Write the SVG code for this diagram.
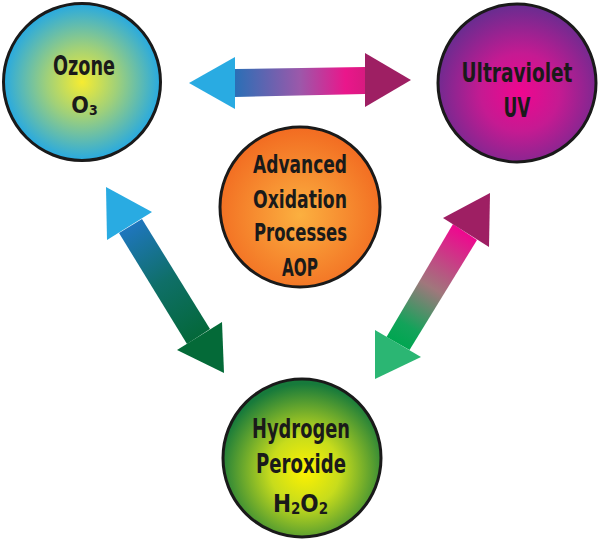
<svg xmlns="http://www.w3.org/2000/svg" width="600" height="541" viewBox="0 0 600 541">
<defs>
<radialGradient id="gOz" cx="0.5" cy="0.5" r="0.5">
<stop offset="0" stop-color="#f6ec31"/>
<stop offset="0.45" stop-color="#9fd07a"/>
<stop offset="1" stop-color="#27a9e1"/>
</radialGradient>
<radialGradient id="gUV" cx="0.52" cy="0.56" r="0.55">
<stop offset="0" stop-color="#f0068f"/>
<stop offset="0.45" stop-color="#c51a92"/>
<stop offset="1" stop-color="#6a2c90"/>
</radialGradient>
<radialGradient id="gH2" cx="0.52" cy="0.58" r="0.55">
<stop offset="0" stop-color="#fff200"/>
<stop offset="0.4" stop-color="#c7dc1c"/>
<stop offset="1" stop-color="#177a3b"/>
</radialGradient>
<radialGradient id="gAOP" cx="0.5" cy="0.55" r="0.55">
<stop offset="0" stop-color="#fbb040"/>
<stop offset="1" stop-color="#f26b21"/>
</radialGradient>
<linearGradient id="gTop" gradientUnits="userSpaceOnUse" x1="235" y1="82" x2="365" y2="80">
<stop offset="0" stop-color="#2a6fb6"/>
<stop offset="0.5" stop-color="#9c58aa"/>
<stop offset="0.85" stop-color="#ea168b"/>
<stop offset="1" stop-color="#d81a80"/>
</linearGradient>
<linearGradient id="gLeft" gradientUnits="userSpaceOnUse" x1="130" y1="226" x2="199" y2="336">
<stop offset="0" stop-color="#1f76be"/>
<stop offset="0.5" stop-color="#0f6f68"/>
<stop offset="1" stop-color="#04683a"/>
</linearGradient>
<linearGradient id="gRight" gradientUnits="userSpaceOnUse" x1="465" y1="232" x2="398" y2="343">
<stop offset="0" stop-color="#ef078f"/>
<stop offset="0.5" stop-color="#a0777c"/>
<stop offset="0.85" stop-color="#13a35a"/>
<stop offset="1" stop-color="#00a651"/>
</linearGradient>
</defs>
<style>
.c{stroke:#1a1a1a;stroke-width:3}
.t{font-family:"Liberation Sans Narrow","DejaVu Sans Condensed","Liberation Sans",sans-serif;font-weight:bold;fill:#1a1a1a;text-anchor:middle}
</style>
<g id="connectors">
<g id="arrow-ozone-uv">
<polygon points="235,69 365,67 365,94 235,97" fill="url(#gTop)"/>
<polygon points="189,83 235,57 235,109" fill="#29abe2"/>
<polygon points="365,53 411,80 365,107" fill="#9e1f63"/>
</g>
<g id="arrow-ozone-h2o2">
<polygon points="119,233 142,219 210,329 187,344" fill="url(#gLeft)"/>
<polygon points="106,187 152,212 107,240" fill="#29abe2"/>
<polygon points="177,350 222,322 224,373" fill="#046a38"/>
</g>
<g id="arrow-uv-h2o2">
<polygon points="453,224 477,240 409.5,350 386.5,337" fill="url(#gRight)"/>
<polygon points="443,218 490,193 489,247" fill="#9e1f63"/>
<polygon points="375,330 421,357 375,379" fill="#2bb673"/>
</g>
</g>
<g id="ozone">
<circle class="c" cx="82" cy="82" r="78.5" fill="url(#gOz)"/>
<text class="t" x="84" y="75" font-size="26" textLength="62" lengthAdjust="spacingAndGlyphs">Ozone</text>
<text class="t" x="84.5" y="113" font-size="23">O<tspan font-size="14" dy="2">3</tspan></text>
</g>
<g id="uv">
<circle class="c" cx="517" cy="83" r="79" fill="url(#gUV)"/>
<text class="t" x="517" y="82" font-size="26" textLength="111" lengthAdjust="spacingAndGlyphs">Ultraviolet</text>
<text class="t" x="517" y="117" font-size="27" textLength="27" lengthAdjust="spacingAndGlyphs">UV</text>
</g>
<g id="aop">
<circle class="c" cx="300" cy="207" r="80" fill="url(#gAOP)"/>
<text class="t" x="300" y="173" font-size="24" textLength="94" lengthAdjust="spacingAndGlyphs">Advanced</text>
<text class="t" x="300" y="208" font-size="24" textLength="94" lengthAdjust="spacingAndGlyphs">Oxidation</text>
<text class="t" x="300.5" y="241" font-size="24" textLength="93" lengthAdjust="spacingAndGlyphs">Processes</text>
<text class="t" x="300" y="276" font-size="24" textLength="36" lengthAdjust="spacingAndGlyphs">AOP</text>
</g>
<g id="h2o2">
<circle class="c" cx="302" cy="458" r="79" fill="url(#gH2)"/>
<text class="t" x="301" y="438" font-size="27" textLength="98" lengthAdjust="spacingAndGlyphs">Hydrogen</text>
<text class="t" x="301" y="473" font-size="27" textLength="90" lengthAdjust="spacingAndGlyphs">Peroxide</text>
<text class="t" x="300.5" y="512" font-size="24">H<tspan font-size="15" dy="2">2</tspan><tspan dy="-2">O</tspan><tspan font-size="15" dy="2">2</tspan></text>
</g>
</svg>
